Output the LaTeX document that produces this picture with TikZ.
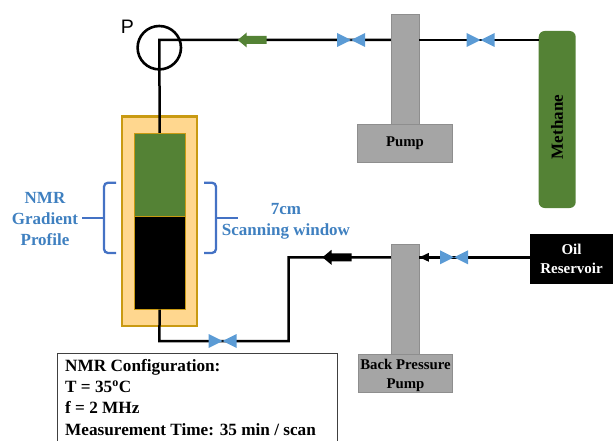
\documentclass[tikz,border=0pt]{standalone}
\usepackage{fontspec}
\setmainfont{Liberation Serif}
\newfontfamily\labelsans{Liberation Sans}
\definecolor{pipegreen}{HTML}{548235}
\definecolor{valveblue}{HTML}{5B9BD5}
\definecolor{bracketblue}{HTML}{4472C4}
\definecolor{textblue}{HTML}{3F80C0}
\definecolor{gold}{HTML}{C99A12}
\definecolor{sand}{HTML}{FFD78F}
\definecolor{pumpgray}{HTML}{A5A5A5}
\definecolor{pumpedge}{HTML}{8E8E8E}
\tikzset{
  pipe/.style={draw=black,line width=2.5pt,line join=miter},
  thinpipe/.style={draw=black,line width=1.7pt},
  pumpbox/.style={draw=pumpedge,fill=pumpgray,line width=0.8pt,inner sep=0pt,font=\bfseries\fontsize{14.8}{19}\selectfont,align=center},
  bracket/.style={draw=bracketblue,line width=2.3pt,rounded corners=4pt},
  bluetext/.style={text=textblue,font=\bfseries\fontsize{17}{21}\selectfont,align=center,inner sep=0pt},
  valve/.pic={\fill[valveblue] (-14,-7) -- (0,0) -- (14,-7) -- (14,7) -- (0,0) -- (-14,7) -- cycle;},
  flowarrow/.pic={\fill[pic actions] (-14.5,0) -- (-5.5,-\tikzheadh) -- (-5.5,-\tikzbodyh) -- (14.5,-\tikzbodyh) -- (14.5,\tikzbodyh) -- (-5.5,\tikzbodyh) -- (-5.5,\tikzheadh) -- cycle;},
}
\def\tikzheadh{7.5}
\def\tikzbodyh{4}
\begin{document}
\begin{tikzpicture}[x=1pt,y=-1pt]
\useasboundingbox (0,0) rectangle (613,441);
\clip (0,0) rectangle (613,441);
% coordinates
\coordinate (corner) at (159.3,40);
\coordinate (v1) at (351,40);
\coordinate (v2) at (480.7,40);
\coordinate (v3) at (222.7,341);
\coordinate (v4) at (454,257.3);
\coordinate (a1) at (252.2,40);
\coordinate (a2) at (337,257.3);
\coordinate (lowleft) at (159.3,341);
\coordinate (lowright) at (288.7,341);
\coordinate (lowup) at (288.7,257.3);
% core holder
\node[draw=gold,fill=sand,line width=2.2pt,minimum width=75pt,minimum height=209.5pt,inner sep=0pt] (holder) at (159.8,221.3) {};
\node[draw=gold,fill=pipegreen,line width=1pt,minimum width=51.3pt,minimum height=83.4pt,inner sep=0pt] (gas) at (159.7,175) {};
\node[draw=gold,fill=black,line width=1pt,minimum width=51.3pt,minimum height=92.3pt,inner sep=0pt] (oil) at (159.7,262.9) {};
% pumps
\node[pumpbox,minimum width=27.7pt,minimum height=109.7pt] (pumpcol) at (405.2,69.2) {};
\node[pumpbox,minimum width=94.6pt,minimum height=38.7pt] (pumpbase) at (405,143.4) {Pump};
\node[pumpbox,minimum width=27.7pt,minimum height=110pt] (bpcol) at (405.2,299) {};
\node[pumpbox,minimum width=94.3pt,minimum height=38.7pt] (bpbase) at (405.1,373.4) {};
\node[font=\bfseries\fontsize{14.8}{19}\selectfont,align=center,inner sep=0pt] (bplabel) at (405.5,375.5) {Back Pressure\\Pump};
% tanks
\node[fill=pipegreen,rounded corners=6pt,minimum width=37pt,minimum height=177pt,inner sep=0pt] (methane) at (557.2,119.5) {};
\node[rotate=90,font=\bfseries\fontsize{17}{19}\selectfont] (methanelabel) at (557,127) {Methane};
\node[fill=black,text=white,minimum width=83pt,minimum height=49.7pt,inner sep=0pt,align=center,font=\bfseries\fontsize{15}{19}\selectfont] (reservoir) at (571.5,259.2) {Oil\\Reservoir};
% pump P
\node[circle,draw=black,line width=2.6pt,minimum size=43.4pt,inner sep=0pt] (P) at (159.3,47.7) {};
\node[font=\labelsans\fontsize{19.5}{22}\selectfont,inner sep=0pt] (Plabel) at (127.5,27) {P};
% pipes
\draw[pipe] (gas.north) -- (corner) -- (pumpcol.west |- corner);
\draw[thinpipe] (pumpcol.east |- corner) -- (methane.west |- corner);
\draw[pipe] (oil.south) -- (lowleft) -- (lowright) -- (lowup) -- (bpcol.west |- lowup);
\draw[pipe] (reservoir.west |- v4) -- ++(-2,0) -- (bpcol.east |- v4);
% valves
\path (v1) pic {valve};
\path (v2) pic {valve};
\path (v3) pic {valve};
\path (v4) pic {valve};
% flow arrows
\path (a1) pic[fill=pipegreen] {flowarrow};
\path (a2) pic[fill=black] {flowarrow};
\fill[black] (bpcol.east |- v4) -- ++(9.5,-4.5) -- ++(0,9) -- cycle;
% brackets
\draw[bracket] (116,182.7) -- (104,182.7) -- (104,253) -- (116,253);
\coordinate (lb) at (104,218);
\coordinate (lbt) at (82,218);
\draw[bracket] (lb) -- (lbt);
\draw[bracket] (204,182.7) -- (216,182.7) -- (216,253) -- (204,253);
\coordinate (rb) at (216,218);
\coordinate (rbt) at (238,218);
\draw[bracket] (rb) -- (rbt);
% blue labels
\node[bluetext] (nmrlabel) at (45,219) {NMR\\Gradient\\Profile};
\node[bluetext] (scanlabel) at (286,221.5) {7cm\\Scanning window};
% configuration box
\node[draw=black!75,fill=white,line width=1pt,minimum width=280pt,minimum height=110pt,inner sep=0pt,anchor=north west] (configbox) at (56.7,353) {};
\node[anchor=north west,inner sep=0pt,align=left,font=\bfseries\fontsize{17.2}{21.3}\selectfont] (config) at (65,359) {NMR Configuration:\\T = 35\textsuperscript{o}C\\f = 2 MHz\\Measurement Time: 35 min / scan};
\end{tikzpicture}
\end{document}
